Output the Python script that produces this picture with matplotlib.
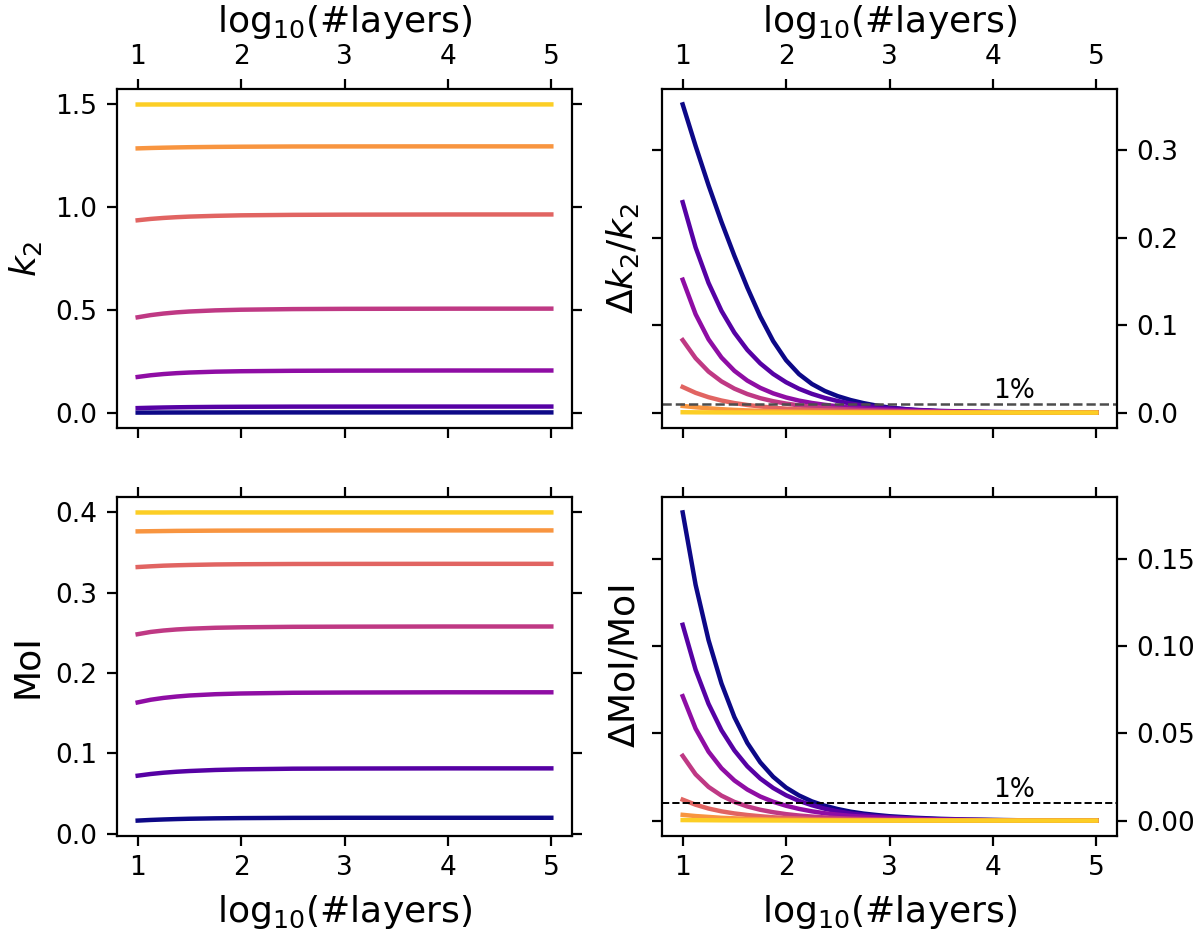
import matplotlib
matplotlib.use('Agg')
import matplotlib.pyplot as plt
import numpy as np

# ---------------- data ----------------
x_left = [1.0, 1.125, 1.25, 1.375, 1.5, 1.75, 2.0, 2.5, 3.0, 4.0, 5.0]
x_fine = [1.0, 1.125, 1.25, 1.375, 1.5, 1.625, 1.75, 1.875, 2.0, 2.125, 2.25,
          2.375, 2.5, 2.625, 2.75, 2.875, 3.0, 3.25, 3.5, 3.75, 4.0, 4.25,
          4.5, 4.75, 5.0]

# k2 for the seven models (navy -> yellow)
k2_m1 = [0.0016, 0.0017, 0.0019, 0.0020, 0.0021, 0.0022, 0.0024, 0.0025, 0.0025, 0.0025, 0.0025]
k2_m2 = [0.0235, 0.0251, 0.0264, 0.0274, 0.0282, 0.0293, 0.0299, 0.0306, 0.0308, 0.0310, 0.0310]
k2_m3 = [0.1749, 0.1831, 0.1890, 0.1933, 0.1964, 0.2005, 0.2027, 0.2048, 0.2056, 0.2062, 0.2063]
k2_m4 = [0.4650, 0.4755, 0.4832, 0.4889, 0.4931, 0.4986, 0.5018, 0.5048, 0.5060, 0.5068, 0.5070]
k2_m5 = [0.9367, 0.9432, 0.9480, 0.9517, 0.9545, 0.9582, 0.9607, 0.9630, 0.9640, 0.9648, 0.9650]
k2_m6 = [1.2862, 1.2881, 1.2896, 1.2909, 1.2920, 1.2934, 1.2943, 1.2954, 1.2957, 1.2960, 1.2960]
k2_m7 = [1.4995, 1.4996, 1.4997, 1.4997, 1.4998, 1.4999, 1.5000, 1.5000, 1.5000, 1.5000, 1.5000]

# moment of inertia
moi_m1 = [0.0164, 0.0172, 0.0178, 0.0183, 0.0187, 0.0192, 0.0195, 0.0198, 0.0199, 0.0199, 0.0199]
moi_m2 = [0.0723, 0.0744, 0.0760, 0.0772, 0.0781, 0.0794, 0.0802, 0.0810, 0.0812, 0.0814, 0.0814]
moi_m3 = [0.1635, 0.1668, 0.1691, 0.1708, 0.1721, 0.1737, 0.1746, 0.1755, 0.1758, 0.1761, 0.1761]
moi_m4 = [0.2484, 0.2512, 0.2530, 0.2543, 0.2552, 0.2564, 0.2570, 0.2576, 0.2578, 0.2580, 0.2580]
moi_m5 = [0.3320, 0.3329, 0.3337, 0.3342, 0.3346, 0.3352, 0.3355, 0.3358, 0.3359, 0.3360, 0.3360]
moi_m6 = [0.3764, 0.3766, 0.3768, 0.3770, 0.3771, 0.3773, 0.3774, 0.3775, 0.3776, 0.3776, 0.3776]
moi_m7 = [0.3999, 0.3999, 0.3999, 0.4000, 0.4000, 0.4000, 0.4000, 0.4000, 0.4000, 0.4000, 0.4000]

# relative difference of k2
dk2_m1 = [0.3525, 0.3050, 0.2600, 0.2181, 0.1793, 0.1430, 0.1099, 0.0818, 0.0599, 0.0440,
          0.0327, 0.0247, 0.0188, 0.0143, 0.0108, 0.0080, 0.0057, 0.0029, 0.0014, 0.0007,
          0.0003, 0.00015, 0.00007, 0.00003, 0.00001]
dk2_m2 = [0.2407, 0.1889, 0.1483, 0.1164, 0.0914, 0.0717, 0.0563, 0.0442, 0.0347, 0.0272,
          0.0214, 0.0168, 0.0132, 0.0103, 0.0081, 0.0064, 0.0050, 0.0031, 0.0019, 0.0012,
          0.0007, 0.0004, 0.00025, 0.00015, 0.0001]
dk2_m3 = [0.152, 0.1125, 0.0838, 0.0630, 0.0478, 0.0366, 0.0283, 0.0220, 0.0173, 0.0137,
          0.0110, 0.0089, 0.0072, 0.0059, 0.0049, 0.0040, 0.0033, 0.0022, 0.0014, 0.0009,
          0.0005, 0.0003, 0.0002, 0.0001, 0.00005]
dk2_m4 = [0.0829, 0.0622, 0.0469, 0.0357, 0.0274, 0.0212, 0.0165, 0.0130, 0.0103, 0.0082,
          0.0066, 0.0053, 0.0043, 0.0035, 0.0029, 0.0024, 0.0020, 0.0013, 0.0009, 0.0006,
          0.0004, 0.0002, 0.0001, 0.00007, 0.00004]
dk2_m5 = [0.0293, 0.0226, 0.0176, 0.0138, 0.0109, 0.0087, 0.0070, 0.0056, 0.0045, 0.0037,
          0.0030, 0.0025, 0.0021, 0.0017, 0.0014, 0.0012, 0.0010, 0.0007, 0.0005, 0.0003,
          0.0002, 0.0001, 0.00007, 0.00004, 0.00002]
dk2_m6 = [0.0076, 0.0061, 0.0049, 0.0039, 0.0031, 0.0025, 0.0020, 0.0016, 0.0013, 0.0010,
          0.0008, 0.0007, 0.0005, 0.0004, 0.0003, 0.0003, 0.0002, 0.00015, 0.0001, 0.00007,
          0.00004, 0.00002, 0.00001, 0.0, 0.0]
dk2_m7 = [0.0004, 0.0003, 0.00025, 0.0002, 0.00015, 0.00012, 0.0001, 0.00008, 0.00006, 0.00005,
          0.00004, 0.00003, 0.00002, 0.00002, 0.00001, 0.00001, 0.00001, 0.0, 0.0, 0.0,
          0.0, 0.0, 0.0, 0.0, 0.0]

# relative difference of MoI
dmoi_m1 = [0.1766, 0.1351, 0.1034, 0.0786, 0.0593, 0.0445, 0.0334, 0.0251, 0.0189, 0.0144,
           0.0110, 0.0085, 0.0066, 0.0051, 0.0040, 0.0032, 0.0025, 0.0016, 0.0010, 0.0006,
           0.0004, 0.0002, 0.00015, 0.0001, 0.00006]
dmoi_m2 = [0.1122, 0.0864, 0.0669, 0.0518, 0.0402, 0.0311, 0.0241, 0.0187, 0.0145, 0.0113,
           0.0088, 0.0068, 0.0053, 0.0041, 0.0032, 0.0025, 0.0020, 0.0012, 0.0007, 0.0004,
           0.00025, 0.00015, 0.0001, 0.00006, 0.00004]
dmoi_m3 = [0.0713, 0.0527, 0.0395, 0.0300, 0.0230, 0.0178, 0.0138, 0.0108, 0.0085, 0.0067,
           0.0053, 0.0042, 0.0034, 0.0027, 0.0022, 0.0018, 0.0015, 0.0009, 0.0006, 0.0004,
           0.0002, 0.00015, 0.0001, 0.00006, 0.00004]
dmoi_m4 = [0.0371, 0.0265, 0.0193, 0.0143, 0.0107, 0.0081, 0.0062, 0.0048, 0.0037, 0.0029,
           0.0023, 0.0018, 0.0014, 0.0011, 0.0009, 0.0007, 0.0006, 0.0004, 0.0002, 0.00015,
           0.0001, 0.00006, 0.00004, 0.00002, 0.00001]
dmoi_m5 = [0.0120, 0.0091, 0.0069, 0.0053, 0.0041, 0.0032, 0.0025, 0.0019, 0.0015, 0.0012,
           0.0009, 0.0007, 0.0006, 0.0005, 0.0004, 0.0003, 0.0002, 0.00015, 0.0001, 0.00006,
           0.00004, 0.00002, 0.00001, 0.0, 0.0]
dmoi_m6 = [0.0033, 0.0026, 0.0021, 0.0016, 0.0013, 0.0010, 0.0008, 0.0006, 0.0005, 0.0004,
           0.0003, 0.00025, 0.0002, 0.00015, 0.00012, 0.0001, 0.00008, 0.00005, 0.00003, 0.00002,
           0.00001, 0.0, 0.0, 0.0, 0.0]
dmoi_m7 = [0.0003, 0.00025, 0.0002, 0.00015, 0.00012, 0.0001, 0.00008, 0.00006, 0.00005, 0.00004,
           0.00003, 0.00002, 0.00002, 0.00001, 0.00001, 0.00001, 0.0, 0.0, 0.0, 0.0,
           0.0, 0.0, 0.0, 0.0, 0.0]

threshold = 0.01
threshold_label = '1%'
color_positions = [0.0, 0.15, 0.30, 0.45, 0.60, 0.75, 0.90]

# ---------------- figure ----------------
W, H = 1200, 934
fig = plt.figure(figsize=(6.0, 4.67), dpi=200)

def rect(x0, y0, x1, y1):
    return [x0 / W, 1 - y1 / H, (x1 - x0) / W, (y1 - y0) / H]

ax_k2 = fig.add_axes(rect(117, 89, 572, 428))
ax_dk2 = fig.add_axes(rect(662, 89, 1117, 428))
ax_moi = fig.add_axes(rect(117, 497, 572, 836))
ax_dmoi = fig.add_axes(rect(662, 497, 1117, 836))

colors = [plt.cm.plasma(c) for c in color_positions]
lw = 1.6
tick_fs = 9.5
label_fs = 13
xlabel = r'log$_{10}$(#layers)'

k2_sets = [k2_m1, k2_m2, k2_m3, k2_m4, k2_m5, k2_m6, k2_m7]
moi_sets = [moi_m1, moi_m2, moi_m3, moi_m4, moi_m5, moi_m6, moi_m7]
dk2_sets = [dk2_m1, dk2_m2, dk2_m3, dk2_m4, dk2_m5, dk2_m6, dk2_m7]
dmoi_sets = [dmoi_m1, dmoi_m2, dmoi_m3, dmoi_m4, dmoi_m5, dmoi_m6, dmoi_m7]

for c, y in zip(colors, k2_sets):
    ax_k2.plot(x_left, y, color=c, lw=lw, solid_joinstyle='round')
for c, y in zip(colors, moi_sets):
    ax_moi.plot(x_left, y, color=c, lw=lw, solid_joinstyle='round')
for c, y in zip(colors, dk2_sets):
    ax_dk2.plot(x_fine, y, color=c, lw=lw, solid_joinstyle='round')
for c, y in zip(colors, dmoi_sets):
    ax_dmoi.plot(x_fine, y, color=c, lw=lw, solid_joinstyle='round')

ax_dk2.axhline(threshold, ls='--', color='0.3', lw=0.9)
ax_dmoi.axhline(threshold, ls='--', color='k', lw=0.7)
ax_dk2.text(4.0, threshold, threshold_label, ha='left', va='bottom', fontsize=tick_fs)
ax_dmoi.text(4.0, threshold, threshold_label, ha='left', va='bottom', fontsize=tick_fs)

for ax in (ax_k2, ax_dk2, ax_moi, ax_dmoi):
    ax.set_xticks([1, 2, 3, 4, 5])
    ax.tick_params(axis='both', which='major', labelsize=tick_fs,
                   top=True, bottom=True, left=True, right=True)

# top row: x labels on top
for ax in (ax_k2, ax_dk2):
    ax.tick_params(labeltop=True, labelbottom=False)
    ax.xaxis.set_label_position('top')
    ax.set_xlabel(xlabel, fontsize=label_fs)
for ax in (ax_moi, ax_dmoi):
    ax.set_xlabel(xlabel, fontsize=label_fs)

# right column: y tick labels on the right
for ax in (ax_dk2, ax_dmoi):
    ax.tick_params(labelleft=False, labelright=True)

ax_k2.set_yticks([0.0, 0.5, 1.0, 1.5])
ax_moi.set_yticks([0.0, 0.1, 0.2, 0.3, 0.4])
ax_dk2.set_yticks([0.0, 0.1, 0.2, 0.3])
ax_dmoi.set_yticks([0.0, 0.05, 0.10, 0.15])

ax_k2.set_ylabel(r'$k_2$', fontsize=label_fs)
ax_moi.set_ylabel('MoI', fontsize=label_fs)
ax_dk2.set_ylabel(r'$\Delta k_2/k_2$', fontsize=label_fs)
ax_dmoi.set_ylabel(r'$\Delta$MoI/MoI', fontsize=label_fs)

fig.savefig('out.png', dpi=200)
